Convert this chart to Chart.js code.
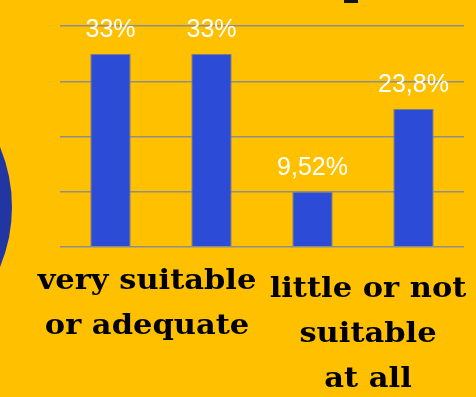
<!DOCTYPE html>
<html>
<head>
<meta charset="utf-8">
<script src="https://cdn.jsdelivr.net/npm/chart.js@4/dist/chart.umd.min.js"></script>
<style>
  html, body { margin: 0; padding: 0; background: #FFC000; overflow: hidden; }
  #wrap { position: relative; width: 476px; height: 397px; }
  #circle { position: absolute; left: -300px; top: 51px; width: 312px; height: 312px; border-radius: 50%; background: #2236A3; }
  #mark { position: absolute; left: 344px; top: 0; width: 14px; height: 3px; background: #111; }
  canvas { position: absolute; left: 0; top: 0; }
</style>
</head>
<body>
<div id="wrap">
  <div id="circle"></div>
  <div id="mark"></div>
  <canvas id="c" width="476" height="397"></canvas>
</div>
<script>
const categories = ["very suitable", "suitable or adequate", "little suitable", "not suitable at all"];
const values = [33.3, 33.3, 9.52, 23.8];
const valueLabels = ["33%", "33%", "9,52%", "23,8%"];
const yTicks = [0, 9.52, 19.04, 28.56, 38.08];
const groupLabels = [
  { lines: ["very suitable", "or adequate"], from: 0, to: 1 },
  { lines: ["little or not", "suitable", "at all"], from: 2, to: 3 }
];

const valueLabelPlugin = {
  id: 'valueLabels',
  afterDatasetsDraw(chart) {
    const ctx = chart.ctx;
    const meta = chart.getDatasetMeta(0);
    ctx.save();
    ctx.fillStyle = '#FFFFFF';
    ctx.font = '25px "Liberation Sans", Arial, sans-serif';
    ctx.textAlign = 'center';
    ctx.textBaseline = 'alphabetic';
    meta.data.forEach((bar, i) => {
      ctx.fillText(valueLabels[i], bar.x, bar.y - 17);
    });
    ctx.restore();
  }
};

const groupLabelPlugin = {
  id: 'groupLabels',
  afterDraw(chart) {
    const ctx = chart.ctx;
    const xs = chart.scales.x;
    const base = chart.chartArea.bottom;
    ctx.save();
    ctx.fillStyle = '#000000';
    ctx.font = 'bold 27px "DejaVu Serif", serif';
    ctx.textAlign = 'center';
    ctx.textBaseline = 'alphabetic';
    const offsets = [{ dx: -14, dy: 42 }, { dx: 5, dy: 50 }];
    groupLabels.forEach((g, gi) => {
      const cx = (xs.getPixelForValue(g.from) + xs.getPixelForValue(g.to)) / 2 + offsets[gi].dx;
      g.lines.forEach((line, li) => {
        ctx.save();
        ctx.translate(cx, base + offsets[gi].dy + li * 45);
        ctx.scale(1.13, 1);
        ctx.fillText(line, 0, 0);
        ctx.restore();
      });
    });
    ctx.restore();
  }
};

new Chart(document.getElementById('c'), {
  type: 'bar',
  data: {
    labels: categories,
    datasets: [{
      data: values,
      backgroundColor: '#2C4BD6',
      borderColor: '#7A7F8F',
      borderWidth: 1,
      barPercentage: 0.5,
      categoryPercentage: 0.8
    }]
  },
  options: {
    responsive: false,
    animation: false,
    layout: { padding: { left: 60, right: 12, top: 26, bottom: 150 } },
    plugins: { legend: { display: false }, tooltip: { enabled: false } },
    scales: {
      x: { display: false },
      y: {
        min: 0, max: 38.08,
        afterBuildTicks(axis) { axis.ticks = yTicks.map(v => ({ value: v })); },
        ticks: { display: false },
        border: { display: false },
        grid: { color: '#8E8E8E', lineWidth: 1.5, drawTicks: false }
      }
    }
  },
  plugins: [valueLabelPlugin, groupLabelPlugin]
});
</script>
</body>
</html>
